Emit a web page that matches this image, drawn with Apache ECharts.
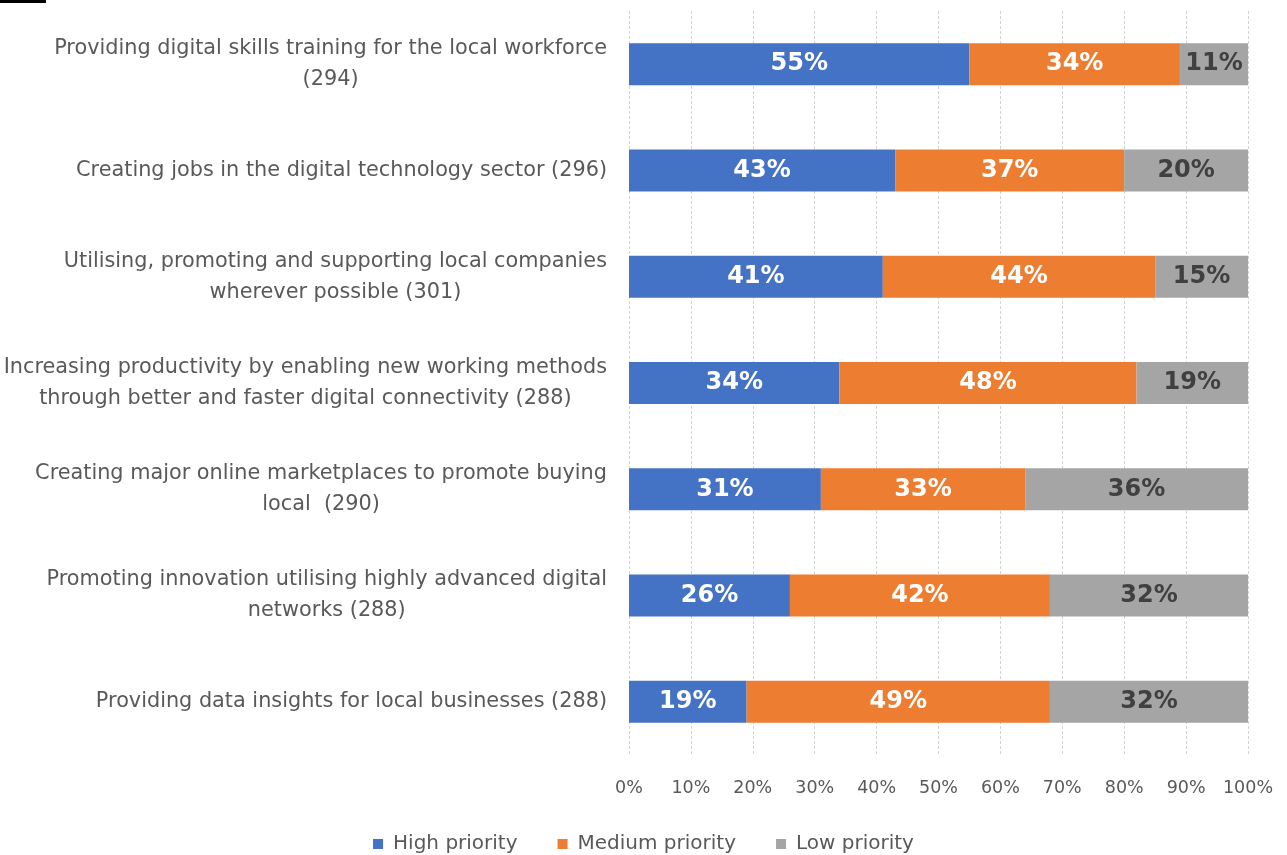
<!DOCTYPE html>
<html>
<head>
<meta charset="utf-8">
<script src="https://cdn.jsdelivr.net/npm/echarts@6/dist/echarts.min.js"></script>
<style>
html,body{margin:0;padding:0;background:#fff;}
#chart{width:1287px;height:855px;}
</style>
</head>
<body>
<div id="chart"></div>
<script>
const categories = [
  "Providing digital skills training for the local workforce\n(294)",
  "Creating jobs in the digital technology sector (296)",
  "Utilising, promoting and supporting local companies\nwherever possible (301)",
  "Increasing productivity by enabling new working methods\nthrough better and faster digital connectivity (288)",
  "Creating major online marketplaces to promote buying\nlocal  (290)",
  "Promoting innovation utilising highly advanced digital\nnetworks (288)",
  "Providing data insights for local businesses (288)"
];
const seriesNames = ["High priority", "Medium priority", "Low priority"];
const highPriority = [55, 43, 41, 34, 31, 26, 19];
const mediumPriority = [34, 37, 44, 48, 33, 42, 49];
const lowPriority = [11, 20, 15, 19, 36, 32, 32];
const tickValues = [0, 10, 20, 30, 40, 50, 60, 70, 80, 90, 100];

const FONT = "DejaVu Sans";
const colors = ["#4472C4", "#ED7D31", "#A5A5A5"];
const labelColors = ["#FFFFFF", "#FFFFFF", "#404040"];
const datasets = [highPriority, mediumPriority, lowPriority];

const chart = echarts.init(document.getElementById('chart'), null, {renderer: 'canvas'});
chart.setOption({
  animation: false,
  backgroundColor: '#fff',
  textStyle: {fontFamily: FONT},
  grid: {left: 629, right: 39, top: 11, bottom: 100, containLabel: false},
  legend: {
    top: 829,
    left: 'center',
    itemWidth: 10,
    itemHeight: 10,
    itemGap: 40,
    icon: 'rect',
    textStyle: {fontFamily: FONT, fontSize: 20, color: '#595959', padding: [0, 0, 0, 5]},
    data: seriesNames
  },
  xAxis: {
    type: 'value',
    min: 0,
    max: 100,
    interval: 10,
    axisLine: {show: false},
    axisTick: {show: false},
    splitLine: {show: true, lineStyle: {color: '#D3D3D3', type: [3, 2], width: 1}},
    axisLabel: {
      margin: 24,
      fontFamily: FONT,
      fontSize: 17.5,
      color: '#595959',
      formatter: v => tickValues.indexOf(v) >= 0 ? v + '%' : ''
    }
  },
  yAxis: {
    type: 'category',
    inverse: true,
    data: categories,
    axisLine: {show: false},
    axisTick: {show: false},
    splitLine: {show: false},
    axisLabel: {
      margin: 22,
      align: 'right',
      fontFamily: FONT,
      fontSize: 20.8,
      color: '#595959',
      lineHeight: 31,
      formatter: v => v.split('\n').map(l => '{c|' + l + '}').join('\n'),
      rich: {c: {align: 'center', fontFamily: FONT, fontSize: 20.8, color: '#595959', lineHeight: 31}}
    }
  },
  series: datasets.map((d, i) => ({
    name: seriesNames[i],
    type: 'bar',
    stack: 'total',
    barWidth: 42,
    data: d,
    itemStyle: {color: colors[i]},
    label: {
      show: true,
      position: 'inside',
      formatter: p => p.value + '%',
      fontFamily: FONT,
      fontSize: 24,
      fontWeight: 'bold',
      color: labelColors[i]
    }
  })),
  graphic: [{type: 'rect', shape: {x: 0, y: 0, width: 46, height: 3}, style: {fill: '#000'}}]
});
</script>
</body>
</html>
